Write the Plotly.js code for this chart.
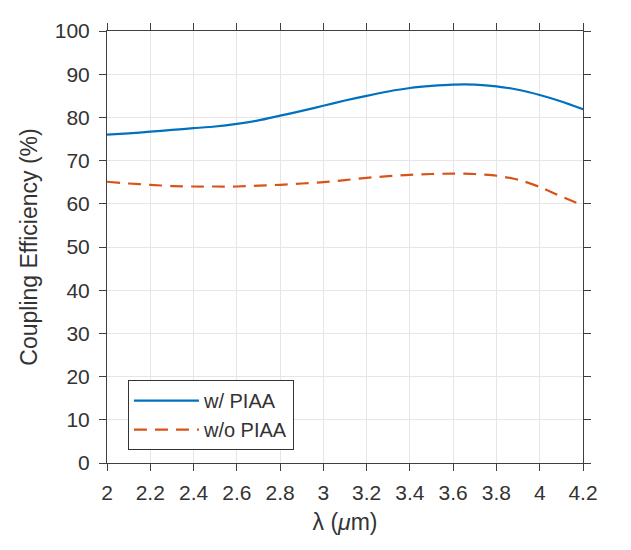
<!DOCTYPE html>
<html>
<head>
<meta charset="utf-8">
<script src="https://cdn.plot.ly/plotly-3.0.1.min.js"></script>
<style>
html,body{margin:0;padding:0;background:#fff;}
#chart{width:631px;height:550px;}
</style>
</head>
<body>
<div id="chart"></div>
<script>
var wavelength = [2.0, 2.1, 2.2, 2.3, 2.4, 2.5, 2.6, 2.7, 2.8, 2.9, 3.0, 3.1, 3.2, 3.3, 3.4, 3.5, 3.6, 3.7, 3.8, 3.9, 4.0, 4.1, 4.2];
var withPIAA = [76.0, 76.3, 76.7, 77.1, 77.5, 77.9, 78.5, 79.3, 80.4, 81.5, 82.7, 83.9, 85.0, 86.0, 86.8, 87.3, 87.6, 87.6, 87.2, 86.4, 85.2, 83.7, 81.9];
var withoutPIAA = [65.1, 64.7, 64.4, 64.1, 64.0, 64.0, 64.0, 64.2, 64.4, 64.7, 65.0, 65.5, 66.0, 66.4, 66.7, 66.9, 67.0, 66.9, 66.5, 65.6, 63.9, 61.7, 59.6];
var seriesNames = ["w/ PIAA", "w/o PIAA"];
var xTicks = [2, 2.2, 2.4, 2.6, 2.8, 3, 3.2, 3.4, 3.6, 3.8, 4, 4.2];
var xTickLabels = ["2", "2.2", "2.4", "2.6", "2.8", "3", "3.2", "3.4", "3.6", "3.8", "4", "4.2"];
var yTicks = [0, 10, 20, 30, 40, 50, 60, 70, 80, 90, 100];

var font = "Liberation Sans, Arial, Helvetica, sans-serif";
var textColor = "#333333";
var axisColor = "#404040";

var traces = [
  {x: wavelength, y: withPIAA, name: seriesNames[0], type: "scatter", mode: "lines",
   line: {color: "#0072BD", width: 2.2, shape: "spline", smoothing: 0.6}},
  {x: wavelength, y: withoutPIAA, name: seriesNames[1], type: "scatter", mode: "lines",
   line: {color: "#D95319", width: 2.2, dash: "13px,8px", shape: "spline", smoothing: 0.6}}
];

var axisCommon = {
  showline: true, linecolor: axisColor, linewidth: 1, mirror: "ticks",
  ticks: "outside", ticklen: 7, tickwidth: 1, tickcolor: axisColor,
  showgrid: true, gridcolor: "#e6e6e6", gridwidth: 1, zeroline: false,
  tickfont: {family: font, size: 21, color: textColor}
};

var layout = {
  width: 631, height: 550,
  margin: {l: 107, r: 48, t: 31, b: 87},
  paper_bgcolor: "#ffffff", plot_bgcolor: "#ffffff",
  showlegend: true,
  legend: {x: 0.044, y: 0.192, xanchor: "left", yanchor: "top",
           bgcolor: "#ffffff", bordercolor: "#333333", borderwidth: 1,
           font: {family: font, size: 20, color: textColor},
           itemwidth: 65, tracegroupgap: 0},
  xaxis: Object.assign({}, axisCommon, {
    range: [2, 4.2], tickmode: "array", tickvals: xTicks, ticktext: xTickLabels,
    ticklabelstandoff: 4,
    title: {text: "λ (<i>μ</i>m)", font: {family: font, size: 23, color: textColor}, standoff: 10}
  }),
  yaxis: Object.assign({}, axisCommon, {
    range: [0, 100], tickmode: "array", tickvals: yTicks,
    ticklabelstandoff: 5,
    title: {text: "Coupling Efficiency (%)", font: {family: font, size: 23, color: textColor}, standoff: 10}
  })
};

Plotly.newPlot("chart", traces, layout, {displayModeBar: false, staticPlot: true});
</script>
</body>
</html>
